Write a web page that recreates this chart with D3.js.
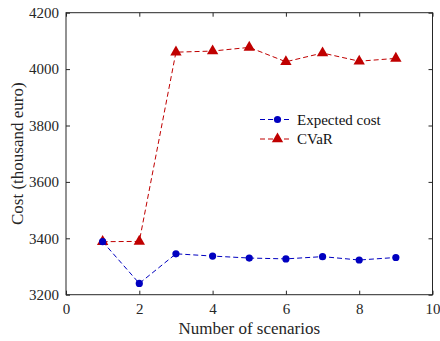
<!DOCTYPE html>
<html>
<head>
<meta charset="utf-8">
<script src="https://cdn.jsdelivr.net/npm/d3@7"></script>
<style>
  html, body { margin: 0; padding: 0; background: #fff; }
  svg { display: block; font-family: "Liberation Serif", "Times New Roman", serif; }
</style>
</head>
<body>
<svg id="chart" width="440" height="341"></svg>
<script>
// Scenario counts and the two cost measures (thousand euro)
const scenarios = [1, 2, 3, 4, 5, 6, 7, 8, 9];
const expectedCost = [3388, 3240, 3345, 3337, 3330, 3327, 3335, 3323, 3332];
const cvar = [3388, 3389, 4060, 4064, 4077, 4026, 4057, 4028, 4038];
const xTicks = [0, 2, 4, 6, 8, 10];
const yTicks = [3200, 3400, 3600, 3800, 4000, 4200];

const svg = d3.select("#chart");
const plotLeft = 66, plotRight = 432.5, plotTop = 12.7, plotBottom = 294.7;

const x = d3.scaleLinear().domain([0, 10]).range([plotLeft, plotRight]);
const y = d3.scaleLinear().domain([3200, 4200]).range([plotBottom, plotTop]);

const axisColor = "#262626";
const serif = "'Liberation Serif', 'Times New Roman', serif";
const fmt = d3.format("d");

// Frame
svg.append("rect")
  .attr("x", plotLeft).attr("y", plotTop)
  .attr("width", plotRight - plotLeft).attr("height", plotBottom - plotTop)
  .attr("fill", "none").attr("stroke", axisColor).attr("stroke-width", 1);

// Bottom / left axes with inward ticks
const xAxis = svg.append("g").attr("transform", `translate(0,${plotBottom})`)
  .call(d3.axisBottom(x).tickValues(xTicks).tickFormat(fmt).tickSizeInner(-4).tickSizeOuter(0).tickPadding(9));
const yAxis = svg.append("g").attr("transform", `translate(${plotLeft},0)`)
  .call(d3.axisLeft(y).tickValues(yTicks).tickFormat(fmt).tickSizeInner(-4).tickSizeOuter(0).tickPadding(7));
// Mirrored ticks on top and right
const xTop = svg.append("g").attr("transform", `translate(0,${plotTop})`)
  .call(d3.axisTop(x).tickValues(xTicks).tickSizeInner(-4).tickSizeOuter(0).tickFormat(""));
const yRight = svg.append("g").attr("transform", `translate(${plotRight},0)`)
  .call(d3.axisRight(y).tickValues(yTicks).tickSizeInner(-4).tickSizeOuter(0).tickFormat(""));

[xAxis, yAxis, xTop, yRight].forEach(g => {
  g.attr("font-family", serif).attr("font-size", 15);
  g.select(".domain").remove();
  g.selectAll(".tick line").attr("stroke", axisColor);
  g.selectAll(".tick text").attr("fill", "#262626");
});

// Axis titles
svg.append("text")
  .attr("x", (plotLeft + plotRight) / 2).attr("y", 334)
  .attr("text-anchor", "middle")
  .attr("font-family", serif).attr("font-size", 17)
  .attr("fill", "#262626")
  .text("Number of scenarios");

svg.append("text")
  .attr("transform", `translate(23,${(plotTop + plotBottom) / 2}) rotate(-90)`)
  .attr("text-anchor", "middle")
  .attr("font-family", serif).attr("font-size", 17)
  .attr("fill", "#262626")
  .text("Cost (thousand euro)");

const blue = "#0000c0";
const red = "#c00000";
const tri = d3.symbol().type(d3.symbolTriangle).size(56);

const line = d3.line().x(d => x(d[0])).y(d => y(d[1]));

function drawSeries(values, color, marker) {
  const pts = scenarios.map((s, i) => [s, values[i]]);
  svg.append("path")
    .datum(pts)
    .attr("d", line)
    .attr("fill", "none")
    .attr("stroke", color)
    .attr("stroke-width", 1)
    .attr("stroke-dasharray", "5,3");
  const g = svg.append("g");
  if (marker === "circle") {
    g.selectAll("circle").data(pts).join("circle")
      .attr("cx", d => x(d[0])).attr("cy", d => y(d[1]))
      .attr("r", 3.6).attr("fill", color);
  } else {
    g.selectAll("path").data(pts).join("path")
      .attr("d", tri)
      .attr("transform", d => `translate(${x(d[0])},${y(d[1])})`)
      .attr("fill", color);
  }
}

drawSeries(cvar, red, "triangle");
drawSeries(expectedCost, blue, "circle");

// Legend
const legend = [
  { label: "Expected cost", color: blue, marker: "circle" },
  { label: "CVaR", color: red, marker: "triangle" }
];
legend.forEach((d, i) => {
  const ly = 119.5 + i * 19.5;
  svg.append("line")
    .attr("x1", 260).attr("x2", 292).attr("y1", ly).attr("y2", ly)
    .attr("stroke", d.color).attr("stroke-width", 1).attr("stroke-dasharray", "5,3");
  if (d.marker === "circle") {
    svg.append("circle").attr("cx", 277.5).attr("cy", ly).attr("r", 3.6).attr("fill", d.color);
  } else {
    svg.append("path").attr("d", tri).attr("transform", `translate(277.5,${ly})`).attr("fill", d.color);
  }
  svg.append("text")
    .attr("x", 297).attr("y", ly + 5)
    .attr("font-family", serif).attr("font-size", 15)
    .attr("fill", "#111")
    .text(d.label);
});
</script>
</body>
</html>
